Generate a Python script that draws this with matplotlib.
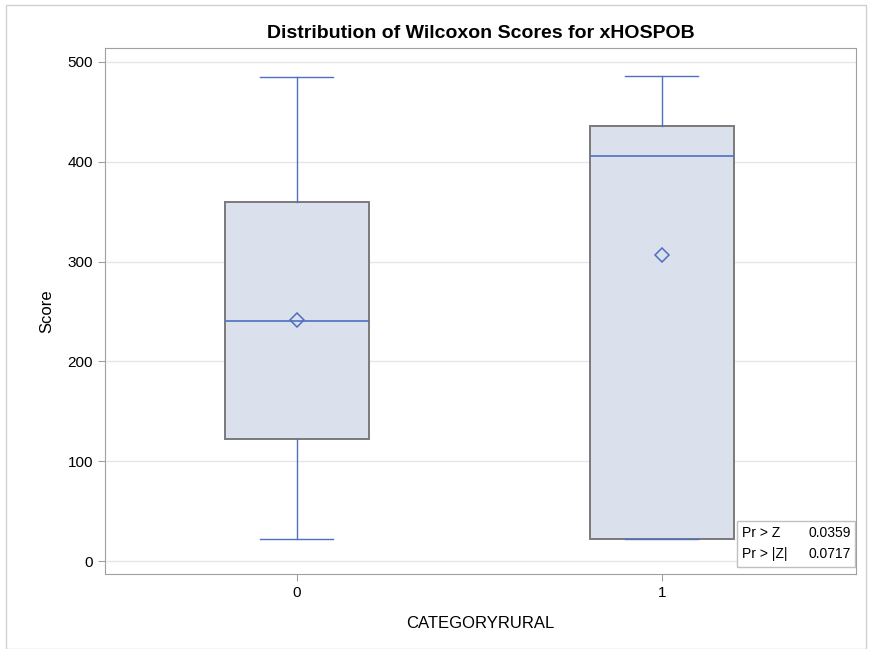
import matplotlib
matplotlib.use("Agg")
import matplotlib.pyplot as plt
from matplotlib.patches import Rectangle

plt.rcParams['font.family'] = ['Liberation Sans', 'DejaVu Sans']

categories = ['0', '1']
whislo = [22, 22]
q1 = [122, 22]
med = [240, 406]
q3 = [360, 436]
whishi = [485, 486]
means = [241, 307]
stats_labels = ['Pr > Z', 'Pr > |Z|']
stats_values = ['0.0359', '0.0717']

fig = plt.figure(figsize=(8.73, 6.49), dpi=100)
ax = fig.add_axes([105/873, 1-574/649, (856-105)/873, (574-48)/649])

fig.patches.append(Rectangle((6/873, 0), (866-6)/873, 1-5/649, transform=fig.transFigure,
                             fill=False, edgecolor='#d0d0d0', lw=1.0))

bxp_stats = []
for i, c in enumerate(categories):
    bxp_stats.append(dict(label=c, whislo=whislo[i], q1=q1[i], med=med[i], q3=q3[i],
                          whishi=whishi[i], mean=means[i], fliers=[]))

blue = '#4f6fc0'
ax.bxp(bxp_stats, positions=[0, 1], widths=0.395, showmeans=True, patch_artist=True,
       boxprops=dict(facecolor='#dae1ec', edgecolor='#7a7a7a', lw=1.4),
       medianprops=dict(color=blue, lw=1.2),
       whiskerprops=dict(color=blue, lw=1.0),
       capprops=dict(color=blue, lw=1.0),
       meanprops=dict(marker='D', markerfacecolor='none', markeredgecolor=blue,
                      markersize=7, markeredgewidth=1.1),
       capwidths=0.2, zorder=3)

ax.set_xlim(-0.526, 1.5315)
ax.set_ylim(-13, 514)
ax.set_yticks([0, 100, 200, 300, 400, 500])
ax.set_xticks([0, 1])
ax.set_xticklabels(categories)
ax.yaxis.grid(True, color='#e6e6e6', lw=1.0, zorder=0)
ax.set_axisbelow(True)
for s in ax.spines.values():
    s.set_color('#a0a0a0')
ax.tick_params(colors='#a0a0a0', labelcolor='black', labelsize=11, length=5)
ax.set_xlabel('CATEGORYRURAL', fontsize=12, labelpad=12)
ax.set_ylabel('Score', fontsize=12, labelpad=10)
ax.set_title('Distribution of Wilcoxon Scores for xHOSPOB', fontsize=14,
             fontweight='bold', pad=7)

# inset stats table
tx0, ty0 = 737, 521
w, h = 118, 46
ax.add_patch(Rectangle((tx0/873, 1-(ty0+h)/649), w/873, h/649, transform=fig.transFigure,
                       facecolor='white', edgecolor='#c0c0c0', lw=1.0, zorder=5))
for i, (lab, val) in enumerate(zip(stats_labels, stats_values)):
    yy = 1-(ty0+12+i*21)/649
    fig.text((tx0+5)/873, yy, lab, fontsize=10, va='center', ha='left', zorder=6)
    fig.text((tx0+w-4)/873, yy, val, fontsize=10, va='center', ha='right', zorder=6)

fig.savefig('out.png', dpi=100)
